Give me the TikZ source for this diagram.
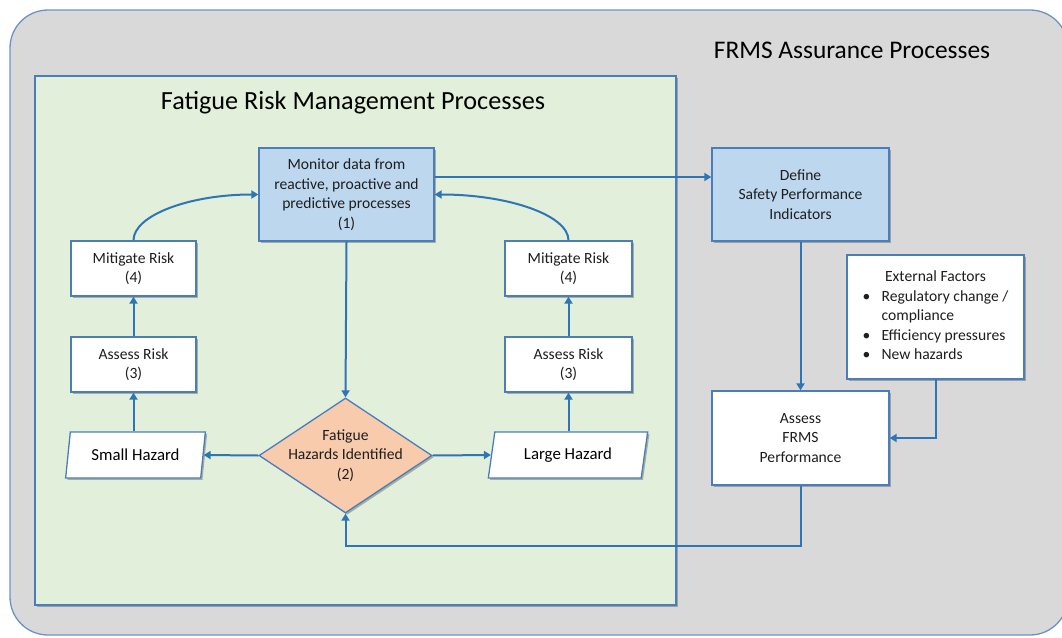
\documentclass[tikz,border=0pt]{standalone}
\usepackage{fontspec}
\setmainfont{Carlito}
\usetikzlibrary{shapes.geometric,arrows.meta,shadows,calc}
\definecolor{outerfill}{HTML}{D9D9D9}
\definecolor{outline}{HTML}{6A93C4}
\definecolor{greenfill}{HTML}{E2EFDA}
\definecolor{boxline}{HTML}{4A7EBB}
\definecolor{bluefill}{HTML}{BDD7EE}
\definecolor{orangefill}{HTML}{F8CBAD}
\definecolor{arrowc}{HTML}{2E75B6}
\definecolor{txt}{HTML}{1E1E1E}
\begin{document}
\begin{tikzpicture}[x=1pt,y=-1pt,
  shad/.style={drop shadow={shadow xshift=1.8pt,shadow yshift=-1.8pt,opacity=0.4,fill=black!70}},
  box/.style={draw=boxline,line width=1.3pt,fill=white,align=center,inner sep=0pt,
    text=txt,font=\fontsize{15.6}{19.5}\selectfont,shad},
  bluebox/.style={box,fill=bluefill},
  hazard/.style={box,trapezium,trapezium left angle=75,trapezium right angle=105,
    trapezium stretches=true,text=black,font=\fontsize{16.8}{19.5}\selectfont},
  decision/.style={box,diamond,fill=orangefill},
  title/.style={text=black,anchor=base},
  conn/.style={draw=arrowc,line width=2pt,-{Triangle[length=7pt,width=8pt]}}]
\useasboundingbox (0,0) rectangle (1062,637);
% outer container
\path[fill=outerfill,draw=outline,line width=1.3pt,rounded corners=38pt] (10,10) rectangle (1068,635);
% green container
\node[draw=boxline,line width=1.3pt,fill=greenfill,minimum width=641pt,minimum height=529pt,inner sep=0pt,shad] (frm) at (355.5,340.5) {};
\node[title,font=\fontsize{26.2}{30}\selectfont] (t1) at (353,109) {Fatigue Risk Management Processes};
\node[title,font=\fontsize{25.4}{30}\selectfont] (t2) at (852,58) {FRMS Assurance Processes};
% nodes
\node[bluebox,minimum width=175pt,minimum height=93pt] (mon) at (346.5,194.5)
  {Monitor data from\\reactive, proactive and\\predictive processes\\(1)};
\node[bluebox,minimum width=177pt,minimum height=93pt] (def) at (800.5,194.5)
  {Define\\Safety Performance\\Indicators};
\node[box,minimum width=177pt,minimum height=124pt] (ext) at (935.5,317)
  {\begin{tabular}{@{}p{19pt}@{}l@{}}
   \multicolumn{2}{c}{External Factors}\\
   \textbullet & Regulatory change /\\
   & compliance\\
   \textbullet & Efficiency pressures\\
   \textbullet & New hazards
   \end{tabular}};
\node[box,minimum width=177pt,minimum height=94pt] (afp) at (800.5,438)
  {Assess\\FRMS\\Performance};
\node[box,minimum width=125pt,minimum height=55pt] (ml) at (133.5,268.5) {Mitigate Risk\\(4)};
\node[box,minimum width=125pt,minimum height=55pt] (al) at (133.5,364.5) {Assess Risk\\(3)};
\node[box,minimum width=127pt,minimum height=55pt] (mr) at (568.5,268.5) {Mitigate Risk\\(4)};
\node[box,minimum width=127pt,minimum height=55pt] (ar) at (568.5,364.5) {Assess Risk\\(3)};
\node[hazard,minimum width=141pt,minimum height=46pt] (sh) at (135.5,455) {Small Hazard};
\node[hazard,minimum width=160pt,minimum height=46pt] (lh) at (568,455) {Large Hazard};
\node[decision,minimum width=173pt,minimum height=115pt,
  label={[text=txt,font=\fontsize{15.6}{19.5}\selectfont,align=center]center:Fatigue\\Hazards Identified\\(2)}] (dia) at (345.5,455.5) {};
% connectors
\draw[conn] (mon.south) -- (dia.north);
\draw[conn] (dia.west) -- (sh.east);
\draw[conn] (dia.east) -- (lh.west);
\draw[conn] (al.south |- sh.north) -- (al.south);
\draw[conn] (al.north) -- (ml.south);
\draw[conn] (ar.south |- lh.north) -- (ar.south);
\draw[conn] (ar.north) -- (mr.south);
\draw[conn] (ml.north) .. controls ($(ml.north)+(0,-25)$) and ($(mon.west)+(-69,0)$) .. (mon.west);
\draw[conn] (mr.north) .. controls ($(mr.north)+(0,-25)$) and ($(mon.east)+(74,0)$) .. (mon.east);
\draw[conn] ([yshift=17.5pt]mon.east) -- ([yshift=17.5pt]def.west);
\draw[conn] (def.south) -- (afp.north);
\draw[conn] (ext.south) |- (afp.east);
\draw[conn] (afp.south) -- ++(0,60) -| (dia.south);
\end{tikzpicture}
\end{document}
